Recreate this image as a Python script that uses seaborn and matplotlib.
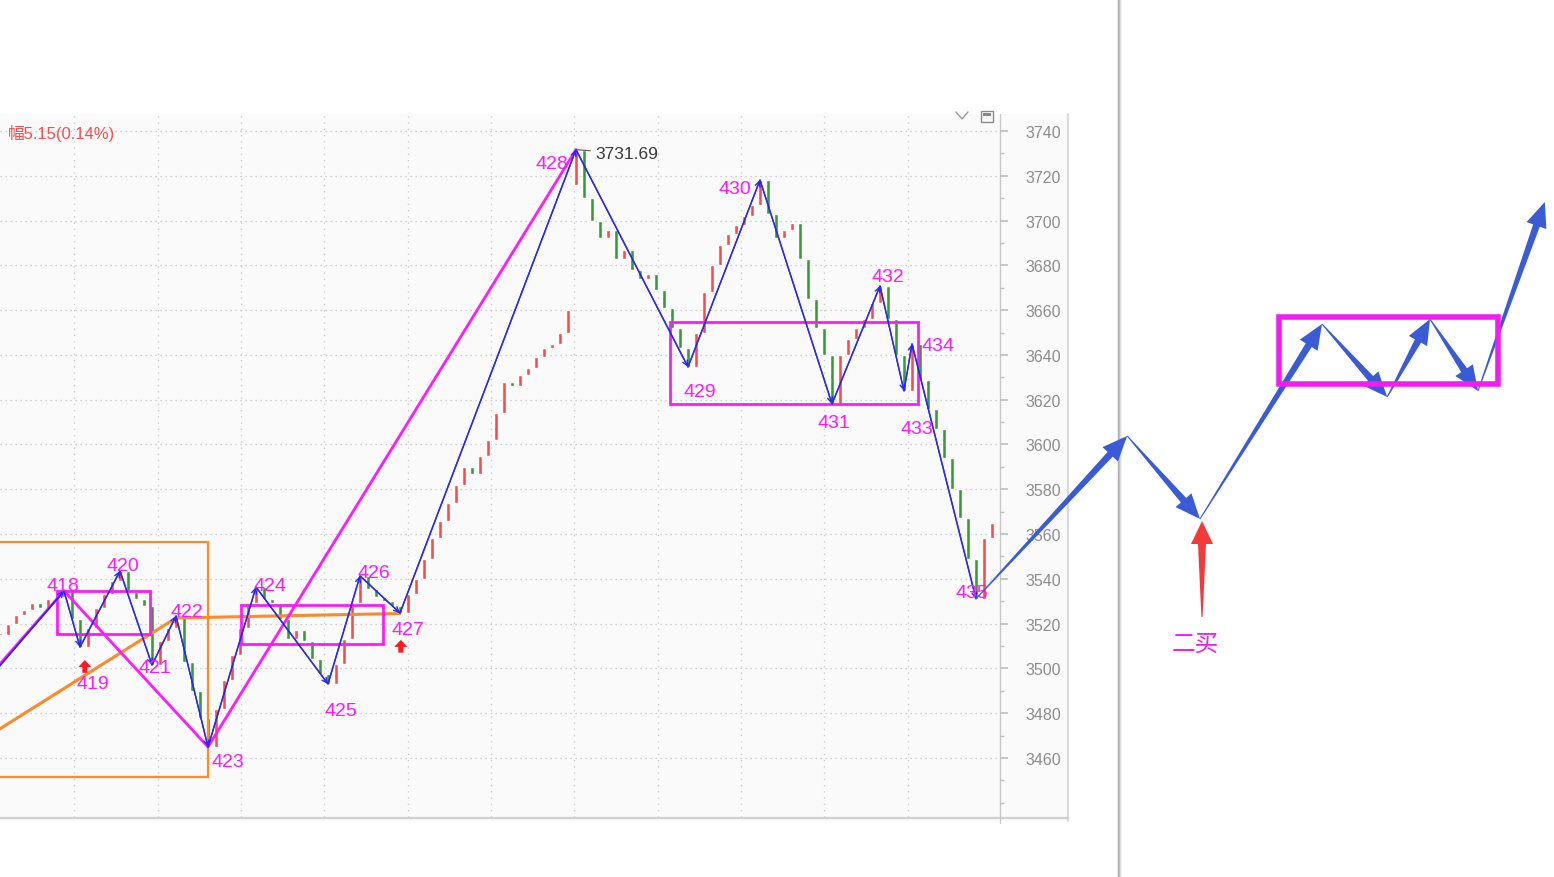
import numpy as np
import pandas as pd
import matplotlib
matplotlib.use('Agg')
import matplotlib.pyplot as plt
import seaborn as sns
from matplotlib.patches import Rectangle, Polygon
from matplotlib.ticker import MultipleLocator
from matplotlib.transforms import IdentityTransform

# ---- data (one bar ~ 8 px) ----
closes = [3515, 3520, 3524, 3526, 3529, 3527, 3531, 3532, 3534.6, 3522,
          3509.5, 3518, 3527, 3533, 3539, 3543.5, 3534, 3531, 3528, 3501.5,
          3512, 3518, 3523.4, 3503, 3490, 3478, 3464.9, 3482, 3495, 3506,
          3518, 3529, 3536.3, 3531, 3529, 3522, 3513, 3517, 3512, 3504,
          3497.5, 3493, 3502, 3513, 3529, 3541.3, 3535.5, 3532, 3530, 3528,
          3524.7, 3533, 3540, 3549, 3558, 3566, 3574, 3582, 3590, 3587,
          3595, 3602, 3614, 3628, 3626, 3631, 3634, 3639, 3643, 3645,
          3650, 3660, 3731.69, 3710, 3700, 3692, 3696, 3683, 3687, 3678,
          3674, 3676, 3669, 3661, 3652, 3643, 3634.6, 3650, 3668, 3680,
          3689, 3694, 3698, 3702, 3707, 3718.1, 3703, 3692, 3696, 3699,
          3683, 3665, 3652, 3640, 3618.1, 3640, 3647, 3652, 3656, 3663,
          3670.8, 3656, 3640, 3623.9, 3644.9, 3629, 3616, 3607, 3594, 3580,
          3567, 3549, 3531, 3558, 3565]
gap_opens = {72: 3716}

pivot_ids = [418, 419, 420, 421, 422, 423, 424, 425, 426, 427,
             428, 429, 430, 431, 432, 433, 434, 435]
pivot_bars = [8, 10, 15, 19, 22, 26, 32, 41, 45, 50,
              72, 86, 95, 104, 110, 113, 114, 122]
pivot_prices = [3534.6, 3509.5, 3543.5, 3501.5, 3523.4, 3464.9, 3536.3, 3493.0, 3541.3, 3524.7,
                3731.69, 3634.6, 3718.1, 3618.1, 3670.8, 3623.9, 3644.9, 3531.0]
stroke_start = (-1, 3497)

big_bars = [0, 8, 26, 72]
big_prices = [3502, 3534.6, 3464.9, 3731.69]

trend_bars = [0, 22, 50]
trend_prices = [3473, 3522.5, 3524.5]

box_bars = [(7.1, 18.75), (30.1, 47.9), (83.75, 114.75)]
box_prices = [(3515.4, 3534.6), (3510.9, 3528.3), (3618.1, 3654.7)]
big_box_bars = (-5, 26)
big_box_prices = (3451.5, 3556.4)

buy_bars = [10.6, 50.1]
buy_low = [3498.0, 3507.0]
buy_high = [3503.7, 3512.7]

sketch_bars = [122, 140.9, 150.0, 165.25, 173.4, 178.75, 184.75, 193.1]
sketch_prices = [3531, 3603.8, 3566.7, 3653.8, 3621.2, 3656.0, 3623.9, 3708.3]
sketch_box_bars = (159.9, 187.25)
sketch_box_prices = (3627.0, 3656.9)
second_buy_bar = 150.25
second_buy_prices = (3523, 3565.8)
second_buy_text = "二买"

peak_text = "3731.69"
header_text = "幅5.15(0.14%)"
yticks = list(range(3460, 3741, 20))
vgrid = [9.25, 19.7, 30.1, 40.5, 51.0, 61.4, 71.8, 82.2, 92.6, 103.0, 113.5]

# label offsets in pixels from each pivot
label_dx = [-1, 13, 3, 3, 11, 20, 14, 13, 14, 8, -24, 12, -25, 2, 8, 13, 26, -4]
label_dy = [5, -36, 5, -3, 4, -15, 2, -26, 3, -16, -14, -25, -8, -19, 9, -38, -2, 6]

BLUE = '#2828ee'
MAGENTA = '#ff1aff'
ORANGE = '#ff8a2a'
ARROW_BLUE = '#3a5bd6'

sns.set_theme(style='white')
plt.rcParams['font.family'] = ['Liberation Sans', 'Noto Sans CJK SC', 'DejaVu Sans']

W, H = 1554, 878
fig = plt.figure(figsize=(W / 100, H / 100), dpi=100)
fig.patch.set_facecolor('white')

# background / frame of the screenshot in pixel coordinates
bg = fig.add_axes([0, 0, 1, 1], zorder=0)
bg.set_xlim(0, W)
bg.set_ylim(H, 0)
bg.axis('off')
bg.add_patch(Rectangle((0, 115), 1068, 707, fc='#fafafa', ec='none'))
bg.plot([1068, 1068], [115, 822], color='#d2d2d2', lw=1.2)
bg.plot([0, 1068], [819.5, 819.5], color='#cfcfcf', lw=1.6)
bg.plot([1000, 1000], [115, 824], color='#c8c8c8', lw=1)
for i, a in enumerate([0.6, 0.35, 0.18, 0.08]):
    bg.plot([1118 + i, 1118 + i], [0, H], color='#7a7a7a', alpha=a, lw=1)
bg.plot([956, 962, 968], [113, 120, 113], color='#9a9a9a', lw=1)
bg.add_patch(Rectangle((981, 112), 12, 11, fc='none', ec='#8a8a8a', lw=1))
bg.add_patch(Rectangle((983, 114), 8, 3, fc='#8a8a8a', ec='none'))

ax = fig.add_axes([0, 60 / H, 1000 / W, 703 / H], zorder=1)
ax.patch.set_alpha(0)
ax.set_xlim(0, 125)
ax.set_ylim(3433.6, 3747.6)

# candles
opens = [closes[0]] + closes[:-1]
for k, v in gap_opens.items():
    opens[k] = v
df = pd.DataFrame({'bar': np.arange(len(closes)), 'open': opens, 'close': closes})
df['low'] = df[['open', 'close']].min(axis=1)
df['size'] = (df['close'] - df['open']).abs().clip(lower=0.8)
df['col'] = np.where(df['close'] >= df['open'], '#f24f4f', '#3a9a3a')
ax.bar(df['bar'], df['size'], bottom=df['low'], width=0.5, color=df['col'], zorder=2)

# grid
ax.set_yticks(yticks)
ax.yaxis.set_minor_locator(MultipleLocator(10))
ax.yaxis.tick_right()
ax.set_xticks([])
ax.grid(axis='y', which='major', ls=(0, (1, 3)), color='#c2c2c2', lw=0.9)
ax.vlines(vgrid, 3433.6, 3747.6, colors='#c8c8c8', linestyles=(0, (1, 4)), lw=0.9, zorder=1)
ax.tick_params(axis='y', which='major', length=6, color='#c0c0c0', pad=12,
               labelsize=11.5, labelcolor='#8c8c8c')
ax.tick_params(axis='y', which='minor', length=3, color='#c0c0c0')
for s in ['left', 'top', 'bottom', 'right']:
    ax.spines[s].set_visible(False)

# higher level structure
big_box = Rectangle((big_box_bars[0], big_box_prices[0]), big_box_bars[1] - big_box_bars[0],
                    big_box_prices[1] - big_box_prices[0], fill=False, ec=ORANGE, lw=1.6, zorder=3)
ax.add_patch(big_box)
sns.lineplot(x=trend_bars, y=trend_prices, ax=ax, color=ORANGE, lw=2.2, sort=False,
             estimator=None, zorder=4)
sns.lineplot(x=big_bars, y=big_prices, ax=ax, color=MAGENTA, lw=2, sort=False,
             estimator=None, zorder=4)
for (b0, b1), (p0, p1) in zip(box_bars, box_prices):
    ax.add_patch(Rectangle((b0, p0), b1 - b0, p1 - p0, fill=False, ec=MAGENTA, lw=2, zorder=4))

# strokes
sx = [stroke_start[0]] + pivot_bars
sy = [stroke_start[1]] + pivot_prices
sns.lineplot(x=sx, y=sy, ax=ax, color=BLUE, lw=1, sort=False, estimator=None, zorder=5)
for i in range(1, len(sx)):
    ax.annotate('', xy=(sx[i], sy[i]), xytext=(sx[i - 1], sy[i - 1]),
                arrowprops=dict(arrowstyle='->', color=BLUE, lw=1, shrinkA=0, shrinkB=0,
                                mutation_scale=9), zorder=5)

for pid, b, p, dx, dy in zip(pivot_ids, pivot_bars, pivot_prices, label_dx, label_dy):
    ax.annotate(str(pid), xy=(b, p), xytext=(dx, dy), textcoords='offset pixels',
                ha='center', va='center', color=MAGENTA, fontsize=14, zorder=6)

ax.annotate(peak_text, xy=(72, 3731.69), xytext=(19, -4), textcoords='offset pixels',
            ha='left', va='center', color='#3a3a3a', fontsize=12.5,
            arrowprops=dict(arrowstyle='-', color='#555555', lw=0.8, shrinkA=1, shrinkB=1))
fig.text(8 / W, 1 - 133 / H, header_text, ha='left', va='center', color='#f25050', fontsize=12)

fig.canvas.draw()


def taper_arrow(x0, y0, x1, y1, color, w_tail=0.5, w_shaft=3.5, head_w=10.5, head_len=25):
    T = ax.transData
    p0 = np.array(T.transform((x0, y0)))
    p1 = np.array(T.transform((x1, y1)))
    d = p1 - p0
    d = d / np.hypot(*d)
    n = np.array([-d[1], d[0]])
    b = p1 - d * head_len
    pts = [p0 + n * w_tail, b + n * w_shaft, b + n * head_w, p1,
           b - n * head_w, b - n * w_shaft, p0 - n * w_tail]
    ax.add_patch(Polygon(pts, closed=True, transform=IdentityTransform(), fc=color,
                         ec='none', clip_on=False, zorder=8))


# small buy arrows
for b, lo, hi in zip(buy_bars, buy_low, buy_high):
    taper_arrow(b, lo, b, hi, '#ff1a1a', w_tail=2.5, w_shaft=2.5, head_w=6.5, head_len=7)

# sketch of the expected path
for i in range(1, len(sketch_bars)):
    taper_arrow(sketch_bars[i - 1], sketch_prices[i - 1], sketch_bars[i], sketch_prices[i],
                ARROW_BLUE)
sb = Rectangle((sketch_box_bars[0], sketch_box_prices[0]), sketch_box_bars[1] - sketch_box_bars[0],
               sketch_box_prices[1] - sketch_box_prices[0], fill=False, ec='#f01ff0', lw=4,
               clip_on=False, zorder=9)
ax.add_patch(sb)
taper_arrow(second_buy_bar, second_buy_prices[0], second_buy_bar, second_buy_prices[1],
            '#f23a3a', w_tail=0.6, w_shaft=4, head_w=11, head_len=23)
ax.text(149.4, 3510.9, second_buy_text, ha='center', va='center', color='#f01ff0',
        fontsize=17, clip_on=False, zorder=9)

fig.savefig('out.png', dpi=100, facecolor='white')
